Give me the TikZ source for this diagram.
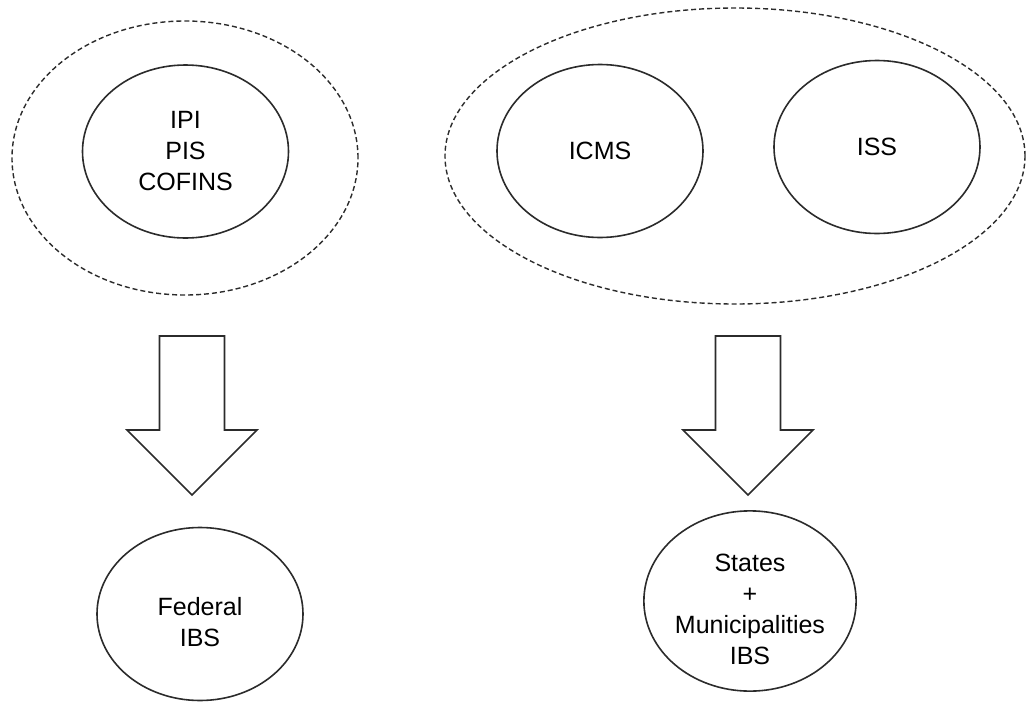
\documentclass[tikz,border=0pt]{standalone}
\usepackage{fontspec}
\setmainfont{Liberation Sans}
\usetikzlibrary{positioning,shapes.geometric}
\definecolor{ink}{HTML}{2B2B2B}

\tikzset{
  tax/.style={draw=ink,ellipse,line width=0.8pt,inner sep=0pt,align=center,
    minimum width=103pt,minimum height=86.5pt,
    font=\fontsize{12.5}{15.5}\selectfont},
  group/.style={draw=ink,ellipse,line width=0.7pt,dash pattern=on 2.5pt off 1.5pt,inner sep=0pt},
  blockarrow/.style={draw=ink,line width=0.8pt,line join=miter}
}

\begin{document}
\begin{tikzpicture}[x=0.5pt,y=-0.5pt]
  \useasboundingbox (0,0) rectangle (1035,702);

  % federal taxes
  \node[group,minimum width=173pt,minimum height=137pt] (fedgroup) at (185,158) {};
  \node[tax] (fed) at (185.5,151.5) {IPI\\PIS\\COFINS};

  % state and local taxes
  \node[group,minimum width=290pt,minimum height=148pt] (subgroup) at (735,156) {};
  \node[tax] (icms) at (600,151) {ICMS};
  \node[tax] (iss) at (877,147) {ISS};

  % block arrows
  \foreach \ax/\nm in {192/larrow,748/rarrow} {
    \coordinate (\nm) at (\ax,495);
    \draw[blockarrow] (\ax-32.5,336) -- ++(65,0) -- ++(0,94) -- ++(32.5,0)
      -- (\nm) -- (\ax-65,430) -- ++(32.5,0) -- cycle;
  }

  % resulting IBS
  \node[tax,text height=32.6pt] (fedibs) at (200,614) {Federal\\IBS};
  \node[tax,text height=63.6pt] (subibs) at (750,601) {States\\+\\Municipalities\\IBS};
\end{tikzpicture}
\end{document}
